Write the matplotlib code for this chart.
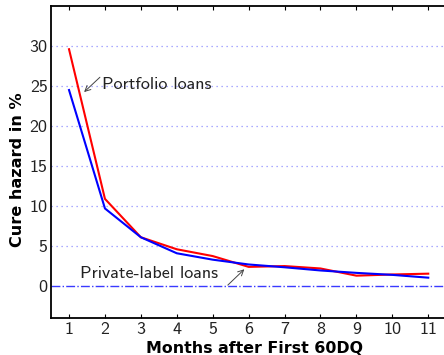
import matplotlib
matplotlib.use("Agg")
import matplotlib.pyplot as plt

months = [1, 2, 3, 4, 5, 6, 7, 8, 9, 10, 11]
private_label = [29.6, 10.9, 6.1, 4.6, 3.75, 2.4, 2.5, 2.2, 1.3, 1.45, 1.55]
portfolio = [24.5, 9.7, 6.1, 4.1, 3.3, 2.7, 2.35, 1.95, 1.65, 1.4, 1.05]
yticks = [0, 5, 10, 15, 20, 25, 30]

plt.rcParams["font.family"] = ["cmss10", "DejaVu Sans"]
plt.rcParams["axes.unicode_minus"] = False
plt.rcParams["mathtext.fontset"] = "cm"

fig = plt.figure(figsize=(4.44, 3.55), dpi=100)
ax = fig.add_axes([0.115, 0.104, 0.89, 0.879])

for y in yticks[1:]:
    ax.axhline(y, color="#9090ff", linestyle=(0, (1, 3)), linewidth=0.9, zorder=1)
ax.axhline(0, color="#3a3aff", linestyle="-.", linewidth=1.0, zorder=1)

ax.plot(months, private_label, color="#ff0000", linewidth=1.5, zorder=3)
ax.plot(months, portfolio, color="#0000ff", linewidth=1.5, zorder=3)

arrow = dict(arrowstyle="->", color="#444444", lw=0.7, shrinkA=0, shrinkB=0)
ax.text(1.92, 25.25, "Portfolio loans", fontsize=13, color="#222222",
        va="center", ha="left")
ax.annotate("", xy=(1.42, 24.25), xytext=(1.86, 26.1), arrowprops=arrow)
ax.text(5.15, 1.6, "Private-label loans", fontsize=13, color="#222222",
        va="center", ha="right")
ax.annotate("", xy=(5.88, 2.1), xytext=(5.42, 0.12), arrowprops=arrow)

ax.set_xlim(0.5, 11.5)
ax.set_ylim(-4, 35)
ax.set_xticks(months)
ax.set_yticks(yticks)
ax.tick_params(axis="x", direction="in", top=True, length=3, width=0.8,
               labelsize=13, pad=3)
ax.tick_params(axis="y", length=0, labelsize=13, pad=2.5)
for lab in ax.get_xticklabels() + ax.get_yticklabels():
    lab.set_color("#222222")

ax.spines["right"].set_visible(False)
for s in ("left", "bottom", "top"):
    ax.spines[s].set_linewidth(1.3)

ax.set_xlabel("Months after First 60DQ", fontsize=11.4, fontweight="bold",
              family="DejaVu Sans", labelpad=2)
ax.set_ylabel("Cure hazard in %", fontsize=11.6, fontweight="bold",
              family="DejaVu Sans", labelpad=3)
ax.xaxis.set_label_coords(0.514, -0.075)
ax.yaxis.label.set_y(0.474)

fig.savefig("out.png", dpi=100)
